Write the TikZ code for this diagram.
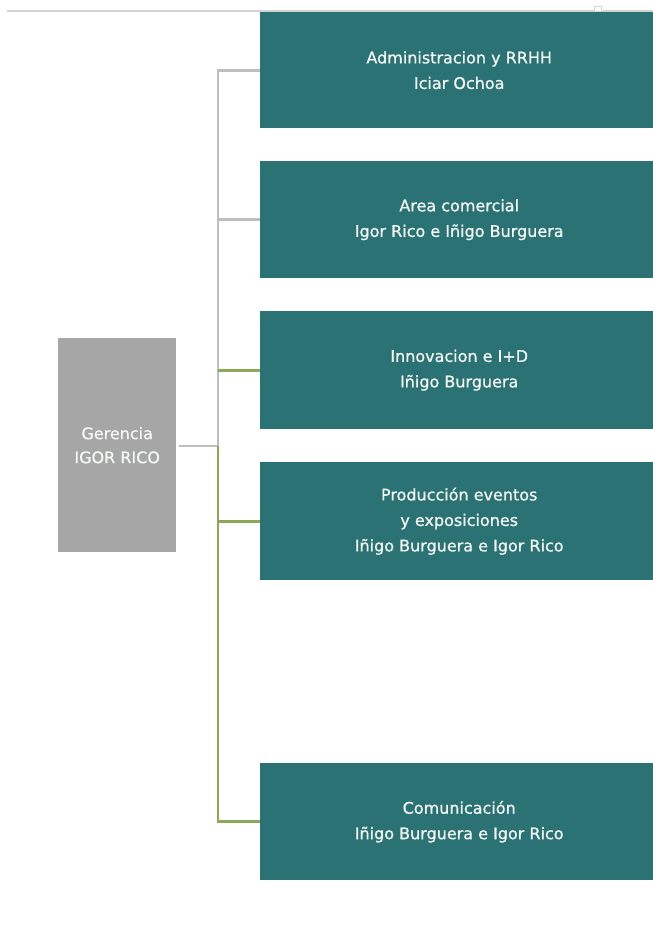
\documentclass[tikz,border=0pt]{standalone}
\usepackage{fontspec}
\setmainfont{DejaVu Sans}[FakeBold=0.8]
\newfontfamily\heavyfont{DejaVu Sans}[FakeBold=0.8]
\definecolor{teal1}{HTML}{2B7275}
\definecolor{graybox}{HTML}{A6A6A6}
\definecolor{grayln}{HTML}{BEBEBE}
\definecolor{greenln}{HTML}{8DA859}
\definecolor{topln}{HTML}{D3D3D3}
\definecolor{txt}{HTML}{F4F8F4}
\begin{document}
\begin{tikzpicture}[x=1pt,y=-1pt,
  dept/.style={fill=teal1,draw=none,text=txt,align=center,
    minimum width=398pt,inner sep=0pt,anchor=north west,
    font=\fontsize{16}{25.5}\selectfont\addfontfeature{FakeBold=0.7}},
  boss/.style={fill=graybox,draw=none,text=txt,align=center,
    minimum width=118pt,minimum height=214pt,inner sep=0pt,anchor=north west,
    font=\fontsize{16}{24}\selectfont\addfontfeature{FakeBold=0.7}},
  grayline/.style={draw=grayln,line width=2.8pt},
  greenline/.style={draw=greenln,line width=2.8pt}]
\useasboundingbox (0,0) rectangle (653,951);
\fill[white] (0,0) rectangle (653,951);
% top rule
\coordinate (tl) at (7,11);
\coordinate (tr) at (653,11);
\draw[topln,line width=1.5pt] (tl) -- (tr);
% departments
\node[dept,minimum height=116pt] (b1) at (260,12) {Administracion y RRHH\\Iciar Ochoa};
\node[dept,minimum height=117pt] (b2) at (260,161) {Area comercial\\Igor Rico e Iñigo Burguera};
\node[dept,minimum height=118pt] (b3) at (260,311) {Innovacion e I+D\\Iñigo Burguera};
\node[dept,minimum height=118pt] (b4) at (260,462) {Producción eventos\\y exposiciones\\Iñigo Burguera e Igor Rico};
\node[dept,minimum height=117pt] (b5) at (260,763) {Comunicación\\Iñigo Burguera e Igor Rico};
% boss
\node[boss] (ger) at (58,338) {Gerencia\\IGOR RICO};
% small mark at top
\node[draw=topln,fill=white,minimum width=7pt,minimum height=5pt,inner sep=0pt,line width=0.6pt] (mk) at (598,9) {};
% connectors
\coordinate (J) at (218,446);
\draw[grayline,shorten <=3pt] (ger.east |- J) -- (J);
\draw[grayline] (J) -- (J |- b1.west) -- (b1.west);
\draw[grayline] (J |- b2.west) -- (b2.west);
\draw[greenline] (J) -- (J |- b5.west) -- (b5.west);
\draw[greenline] (J |- b3.west) -- (b3.west);
\draw[greenline] (J |- b4.west) -- (b4.west);
\end{tikzpicture}
\end{document}
